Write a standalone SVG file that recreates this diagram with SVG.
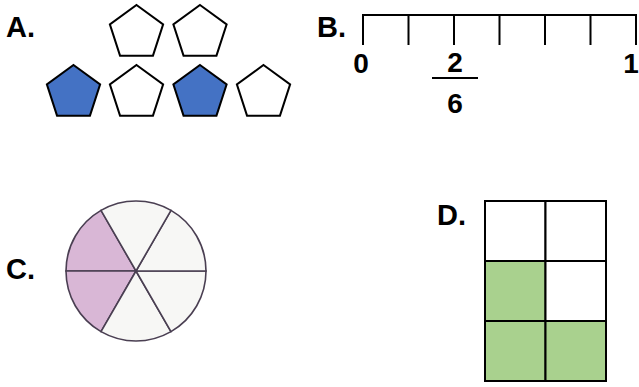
<svg xmlns="http://www.w3.org/2000/svg" width="639" height="387" viewBox="0 0 639 387">
<style>
.lbl{font-family:"Liberation Sans",Arial,sans-serif;font-weight:bold;font-size:29px;fill:#000}
.num{font-family:"Liberation Sans",Arial,sans-serif;font-weight:bold;font-size:28px;fill:#000;text-anchor:middle}
.pent{stroke:#000;stroke-width:2;stroke-linejoin:miter}
.blue{fill:#4472C4}
.white{fill:#fff}
.nl{stroke:#000;stroke-width:2;fill:none}
.sec{stroke:#4a3f52;stroke-width:1.6}
.pink{fill:#D9B7D6}
.light{fill:#F7F7F5}
.cell{stroke:#000;stroke-width:2}
.green{fill:#A9D18E}
</style>
<defs>
<polygon id="pg" points="0,-28 26.63,-8.65 16.46,22.65 -16.46,22.65 -26.63,-8.65"/>
</defs>
<g id="A">
<text class="lbl" x="6" y="37">A.</text>
<use href="#pg" class="pent white" x="136.5" y="33"/>
<use href="#pg" class="pent white" x="200" y="33"/>
<use href="#pg" class="pent blue" x="73.5" y="93"/>
<use href="#pg" class="pent white" x="136.5" y="93"/>
<use href="#pg" class="pent blue" x="200" y="93"/>
<use href="#pg" class="pent white" x="263.5" y="93"/>
</g>
<g id="B">
<text class="lbl" x="317" y="37">B.</text>
<path class="nl" d="M363,15 H636 M363,14 V45 M408.5,15 V45 M454,15 V45 M499.5,15 V45 M545,15 V45 M590.5,15 V45 M636,14 V45"/>
<text class="num" x="361" y="73">0</text>
<text class="num" x="455" y="72">2</text>
<line x1="432" y1="78" x2="478" y2="78" stroke="#000" stroke-width="2"/>
<text class="num" x="455" y="113">6</text>
<text class="num" x="631" y="73">1</text>
</g>
<g id="C">
<text class="lbl" x="6" y="279">C.</text>
<path class="sec pink" d="M136,271 L101,210.4 A70,70 0 0 0 66,271 Z"/>
<path class="sec pink" d="M136,271 L66,271 A70,70 0 0 0 101,331.6 Z"/>
<path class="sec light" d="M136,271 L101,331.6 A70,70 0 0 0 171,331.6 Z"/>
<path class="sec light" d="M136,271 L171,331.6 A70,70 0 0 0 206,271 Z"/>
<path class="sec light" d="M136,271 L206,271 A70,70 0 0 0 171,210.4 Z"/>
<path class="sec light" d="M136,271 L171,210.4 A70,70 0 0 0 101,210.4 Z"/>
</g>
<g id="D">
<text class="lbl" x="437" y="225">D.</text>
<rect class="cell white" x="485" y="201" width="60.5" height="60"/>
<rect class="cell white" x="545.5" y="201" width="60.5" height="60"/>
<rect class="cell green" x="485" y="261" width="60.5" height="60"/>
<rect class="cell white" x="545.5" y="261" width="60.5" height="60"/>
<rect class="cell green" x="485" y="321" width="60.5" height="60"/>
<rect class="cell green" x="545.5" y="321" width="60.5" height="60"/>
</g>
</svg>
